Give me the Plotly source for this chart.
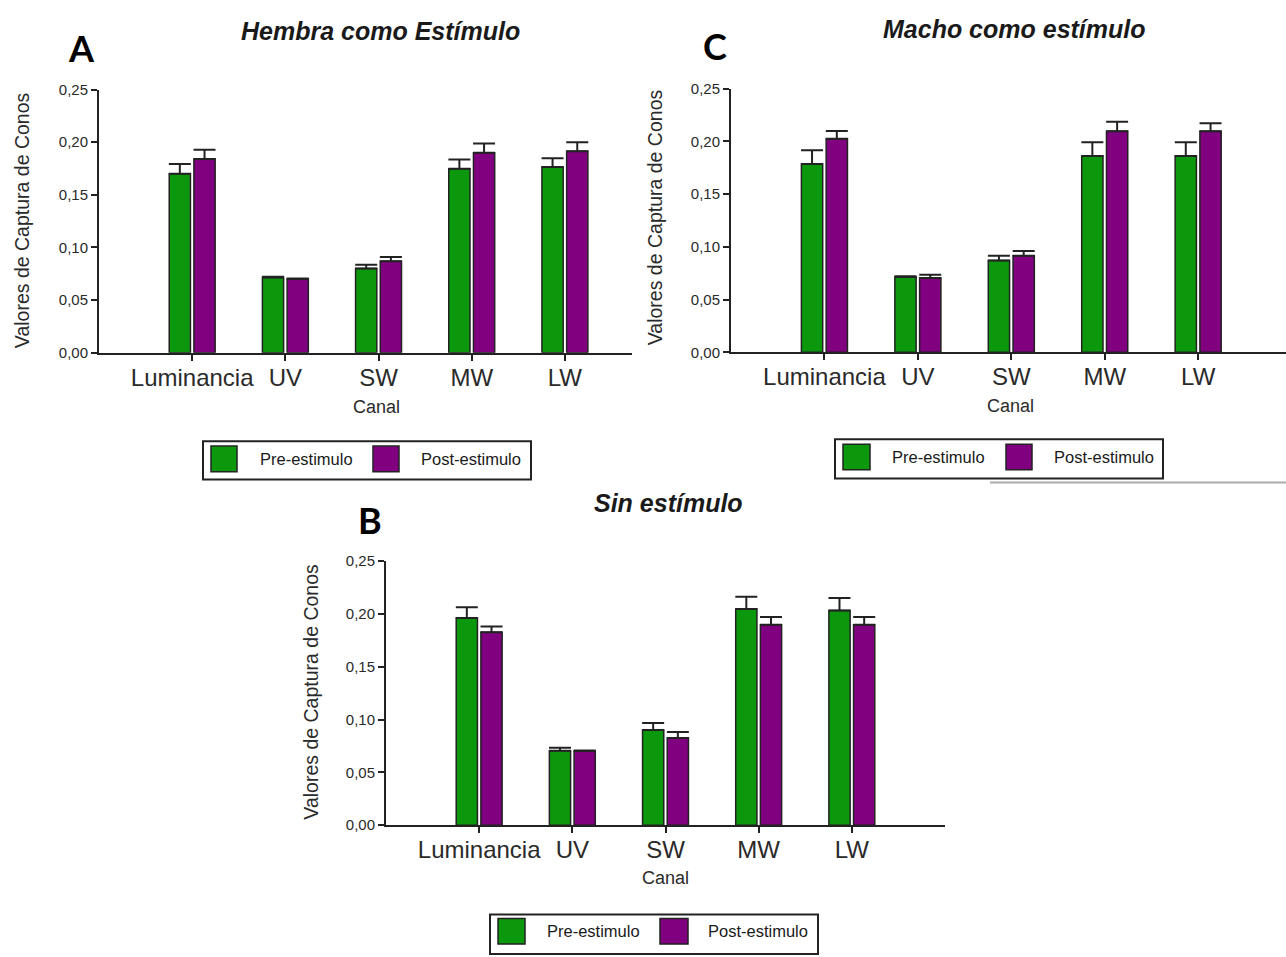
import plotly.graph_objects as go

W, H = 1286, 957

categories = ["Luminancia", "UV", "SW", "MW", "LW"]
series_names = ["Pre-estimulo", "Post-estimulo"]

# Panel A: Hembra como Estímulo
hembra_pre = [0.1700, 0.0714, 0.0800, 0.1748, 0.1764]
hembra_pre_err = [0.0092, 0.0008, 0.0037, 0.0087, 0.0084]
hembra_post = [0.1840, 0.0700, 0.0870, 0.1900, 0.1913]
hembra_post_err = [0.0088, 0.0005, 0.0040, 0.0088, 0.0087]

# Panel C: Macho como estímulo
macho_pre = [0.1786, 0.0714, 0.0870, 0.1860, 0.1860]
macho_pre_err = [0.0130, 0.0006, 0.0046, 0.0130, 0.0130]
macho_post = [0.2025, 0.0705, 0.0916, 0.2096, 0.2096]
macho_post_err = [0.0072, 0.0030, 0.0044, 0.0090, 0.0075]

# Panel B: Sin estímulo
sin_pre = [0.1960, 0.0705, 0.0900, 0.2045, 0.2033]
sin_pre_err = [0.0102, 0.0028, 0.0068, 0.0118, 0.0118]
sin_post = [0.1825, 0.0702, 0.0826, 0.1897, 0.1897]
sin_post_err = [0.0056, 0.0005, 0.0056, 0.0074, 0.0074]

y_tick_vals = [0.00, 0.05, 0.10, 0.15, 0.20, 0.25]
y_tick_text = ["0,00", "0,05", "0,10", "0,15", "0,20", "0,25"]

panel_titles = ["Hembra como Estímulo", "Macho como estímulo", "Sin estímulo"]
panel_letters = ["A", "C", "B"]
x_title = "Canal"
y_title = "Valores de Captura de Conos"

GREEN = "#0c980c"
PURPLE = "#800080"
DARK = "#222222"
FONT = "Liberation Sans, Arial, sans-serif"


def px(x):
    return x / W


def py(y):
    return 1 - y / H


fig = go.Figure()

panels = [
    (hembra_pre, hembra_pre_err, hembra_post, hembra_post_err, ""),
    (macho_pre, macho_pre_err, macho_post, macho_post_err, "2"),
    (sin_pre, sin_pre_err, sin_post, sin_post_err, "3"),
]

for pre, pre_err, post, post_err, sfx in panels:
    for vals, errs, color, name in [(pre, pre_err, GREEN, series_names[0]),
                                    (post, post_err, PURPLE, series_names[1])]:
        fig.add_trace(go.Bar(
            x=categories, y=vals, name=name, showlegend=False,
            xaxis="x" + sfx, yaxis="y" + sfx,
            marker=dict(color=color, line=dict(color=DARK, width=1.5)),
            error_y=dict(type="data", array=errs, arrayminus=[0] * len(errs),
                         symmetric=False, color=DARK, thickness=2, width=11),
        ))

# plot areas in pixels: (left, right, top, bottom, xrange_right)
areas = [
    (99, 632, 82, 350, 4.72),
    (731, 1286, 81, 349.5, 4.94),
    (386, 945, 562, 831, 5.0),
]

layout_axes = {}
for i, (l, r, t, b, xr) in enumerate(areas):
    sfx = "" if i == 0 else str(i + 1)
    layout_axes["xaxis" + sfx] = dict(
        domain=[px(l), px(r)], anchor="y" + sfx, type="category",
        range=[-1, xr], showline=True, linecolor=DARK, linewidth=2,
        ticks="outside", ticklen=6, tickwidth=2, tickcolor=DARK,
        tickangle=0, ticklabelstandoff=-4,
        tickfont=dict(family=FONT, size=24, color="#2a2a2a"),
        showgrid=False, zeroline=False, fixedrange=True,
    )
    layout_axes["yaxis" + sfx] = dict(
        domain=[py(b), py(t)], anchor="x" + sfx, range=[0, 0.25],
        tickvals=y_tick_vals, ticktext=y_tick_text,
        showline=True, linecolor=DARK, linewidth=2,
        ticks="outside", ticklen=6, tickwidth=1.5, tickcolor=DARK,
        tickfont=dict(family=FONT, size=15, color="#2a2a2a"),
        showgrid=False, zeroline=False, fixedrange=True,
    )

annotations = []
for text, (cx, cy) in zip(panel_titles, [(380, 22), (1014, 20), (668, 503)]):
    annotations.append(dict(text="<b><i>" + text + "</i></b>", x=px(cx), y=py(cy),
                            xref="paper", yref="paper", showarrow=False,
                            xanchor="center", yanchor="middle",
                            font=dict(family=FONT, size=25, color="#1a1a1a")))
for text, (cx, cy) in zip(panel_letters, [(81, 40), (715, 38), (370, 520)]):
    annotations.append(dict(text="<b>" + text + "</b>", x=px(cx), y=py(cy),
                            xref="paper", yref="paper", showarrow=False,
                            xanchor="center", yanchor="middle",
                            font=dict(family="Lato, Open Sans, sans-serif", size=36, color="#000000")))
for cx, cy in [(376, 405), (1010, 404), (665, 885)]:
    annotations.append(dict(text=x_title, x=px(cx), y=py(cy), xref="paper", yref="paper",
                            showarrow=False, xanchor="center", yanchor="middle",
                            font=dict(family=FONT, size=18, color="#2a2a2a")))
for cx, cy in [(22, 215), (655, 212), (311, 695)]:
    annotations.append(dict(text=y_title, x=px(cx), y=py(cy), xref="paper", yref="paper",
                            showarrow=False, xanchor="center", yanchor="middle", textangle=-90,
                            font=dict(family=FONT, size=19.5, color="#2a2a2a")))

shapes = []
legends = [
    ((203, 440, 531, 479), (211, 445, 237, 471), 258, (373, 445, 399, 471), 419, 458),
    ((835, 438, 1163, 478), (843, 443, 870, 469), 890, (1006, 443, 1032, 469), 1052, 456),
    ((490, 922, 818, 962), (498, 926, 525, 952), 545, (660, 926, 688, 952), 706, 939),
]
for box, sq1, t1, sq2, t2, ty in legends:
    shapes.append(dict(type="rect", xref="paper", yref="paper",
                       x0=px(box[0]), x1=px(box[2]), y0=py(box[3]), y1=py(box[1]),
                       line=dict(color=DARK, width=2), fillcolor="rgba(0,0,0,0)"))
    for sq, col in [(sq1, GREEN), (sq2, PURPLE)]:
        shapes.append(dict(type="rect", xref="paper", yref="paper",
                           x0=px(sq[0]), x1=px(sq[2]), y0=py(sq[3]), y1=py(sq[1]),
                           line=dict(color=DARK, width=1.5), fillcolor=col))
    for tx, name in [(t1, series_names[0]), (t2, series_names[1])]:
        annotations.append(dict(text=name, x=px(tx), y=py(ty), xref="paper", yref="paper",
                                showarrow=False, xanchor="left", yanchor="middle",
                                font=dict(family=FONT, size=16.5, color="#1a1a1a")))

shapes.append(dict(type="line", xref="paper", yref="paper",
                   x0=px(990), x1=px(1286), y0=py(482), y1=py(482),
                   line=dict(color="#aaaaaa", width=2)))

fig.update_layout(
    width=W, height=H, margin=dict(l=0, r=0, t=0, b=0),
    paper_bgcolor="white", plot_bgcolor="white",
    barmode="group", bargap=0.47, bargroupgap=0.14,
    showlegend=False,
    annotations=annotations, shapes=shapes,
    **layout_axes,
)

fig.write_html("out.html")
